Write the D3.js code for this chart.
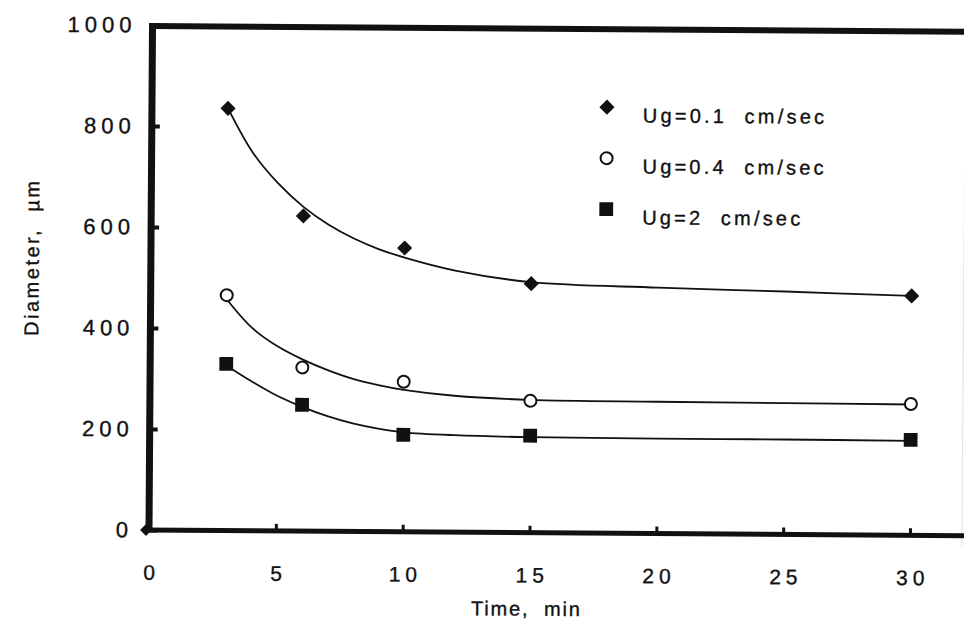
<!DOCTYPE html>
<html>
<head>
<meta charset="utf-8">
<script src="https://cdn.jsdelivr.net/npm/d3@7/dist/d3.min.js"></script>
<style>
  html, body { margin: 0; padding: 0; background: #fff; }
  svg { display: block; }
  text { font-family: "Liberation Sans", Arial, Helvetica, sans-serif; fill: #111; stroke: #111; stroke-width: 0.35px; white-space: pre; }
</style>
</head>
<body>
<svg id="chart" width="964" height="627"></svg>
<script>
// Measured particle diameter (µm) at each sampling time (min)
const sampleTimes = [3, 6, 10, 15, 30];
const diaUg01 = [836, 624, 562, 493, 474];
const diaUg04 = [466, 324, 297, 261, 260];
const diaUg2  = [330, 250, 192, 192, 189];

// Smoothed trend curves drawn through the measurements
const trendTimes = [3, 4, 5, 6, 7, 8, 9, 10, 12, 15, 20, 25, 30];
const trendUg01 = [836, 748, 688, 642, 607, 580, 559, 543, 518, 496, 487, 481, 474];
const trendUg04 = [458, 402, 366, 340, 319, 302, 290, 281, 270, 263, 261, 260, 259];
const trendUg2  = [327, 296, 268, 246, 228, 214, 204, 197, 192, 189, 188, 188, 187];

const seriesNames = ["Ug=0.1  cm/sec", "Ug=0.4  cm/sec", "Ug=2  cm/sec"];
const xTicks = [0, 5, 10, 15, 20, 25, 30];
const yTicks = [0, 200, 400, 600, 800, 1000];

const svg = d3.select("#chart");
const g = svg.append("g").attr("transform", "rotate(0.4,150,530)");

const x = d3.scaleLinear().domain([0, 30]).range([149, 910]);
const y = d3.scaleLinear().domain([0, 1000]).range([530, 25]);

// faint edge of the page on the right
g.append("line").attr("x1", 962).attr("x2", 962).attr("y1", 30).attr("y2", 540)
  .attr("stroke", "#e4e4e4").attr("stroke-width", 1.2);

// bottom axis with inward ticks
const xAxis = d3.axisBottom(x).tickValues(xTicks).tickFormat(d3.format("d"))
  .tickSizeInner(-7).tickSizeOuter(0).tickPadding(35);
const gx = g.append("g").attr("transform", `translate(0,${y(0)})`).call(xAxis);
gx.select(".domain").remove();
gx.selectAll(".tick line").attr("stroke", "#111").attr("stroke-width", 3);
gx.selectAll(".tick text").attr("font-size", 21).attr("letter-spacing", "5px")
  .attr("dx", "2.5px").attr("fill", "#111");

// left axis with inward ticks
const yAxis = d3.axisLeft(y).tickValues(yTicks).tickFormat(d3.format("d"))
  .tickSizeInner(-8).tickSizeOuter(0).tickPadding(21);
const gy = g.append("g").attr("transform", `translate(${x(0)},0)`).call(yAxis);
gy.select(".domain").remove();
gy.selectAll(".tick line").attr("stroke", "#111").attr("stroke-width", 4);
gy.selectAll(".tick text").attr("font-size", 22).attr("letter-spacing", "5px")
  .attr("dx", "5px").attr("fill", "#111");

// heavy frame lines: left, top, bottom
g.append("line").attr("x1", x(0)).attr("x2", x(0)).attr("y1", y(0) + 2).attr("y2", y(1000) - 2)
  .attr("stroke", "#111").attr("stroke-width", 7);
g.append("line").attr("x1", x(0) - 3).attr("x2", 990).attr("y1", y(1000) + 1).attr("y2", y(1000) + 1)
  .attr("stroke", "#111").attr("stroke-width", 6);
g.append("line").attr("x1", x(0) - 3).attr("x2", 990).attr("y1", y(0)).attr("y2", y(0))
  .attr("stroke", "#111").attr("stroke-width", 5);

// small diamond sitting on the origin
g.append("path").attr("d", d3.symbol(d3.symbolSquare, 70)())
  .attr("transform", `translate(${x(0) - 3},${y(0)}) rotate(45)`).attr("fill", "#111");

// trend curves
const line = d3.line().x(d => x(d[0])).y(d => y(d[1])).curve(d3.curveCatmullRom.alpha(0.5));
[trendUg01, trendUg04, trendUg2].forEach(vals => {
  g.append("path")
    .attr("d", line(trendTimes.map((t, i) => [t, vals[i]])))
    .attr("fill", "none").attr("stroke", "#111").attr("stroke-width", 1.8);
});

// markers
const diamond = d3.symbol(d3.symbolSquare, 115)();
const square = d3.symbol(d3.symbolSquare, 190)();

function drawDiamond(sel, cx, cy) {
  sel.append("path").attr("d", diamond)
    .attr("transform", `translate(${cx},${cy}) rotate(45)`).attr("fill", "#111");
}
function drawCircle(sel, cx, cy) {
  sel.append("circle").attr("cx", cx).attr("cy", cy).attr("r", 6)
    .attr("fill", "#fff").attr("stroke", "#111").attr("stroke-width", 2);
}
function drawSquare(sel, cx, cy) {
  sel.append("path").attr("d", square)
    .attr("transform", `translate(${cx},${cy})`).attr("fill", "#111");
}

const drawers = [drawDiamond, drawCircle, drawSquare];
[diaUg01, diaUg04, diaUg2].forEach((vals, s) => {
  const gs = g.append("g");
  sampleTimes.forEach((t, i) => drawers[s](gs, x(t), y(vals[i])));
});

// legend
const legend = g.append("g");
seriesNames.forEach((name, i) => {
  const cy = 104 + i * 51;
  drawers[i](legend, 604, cy);
  legend.append("text").attr("x", 640).attr("y", cy + 15)
    .attr("font-size", 20).attr("letter-spacing", "3.2px").text(name);
});

// axis titles
g.append("text").attr("x", 527).attr("y", 613).attr("text-anchor", "middle")
  .attr("font-size", 20).attr("letter-spacing", "1.8px").text("Time,  min");
g.append("text").attr("transform", "translate(37,258) rotate(-90)").attr("text-anchor", "middle")
  .attr("font-size", 20).attr("letter-spacing", "2.5px").text("Diameter,  µm");
</script>
</body>
</html>
